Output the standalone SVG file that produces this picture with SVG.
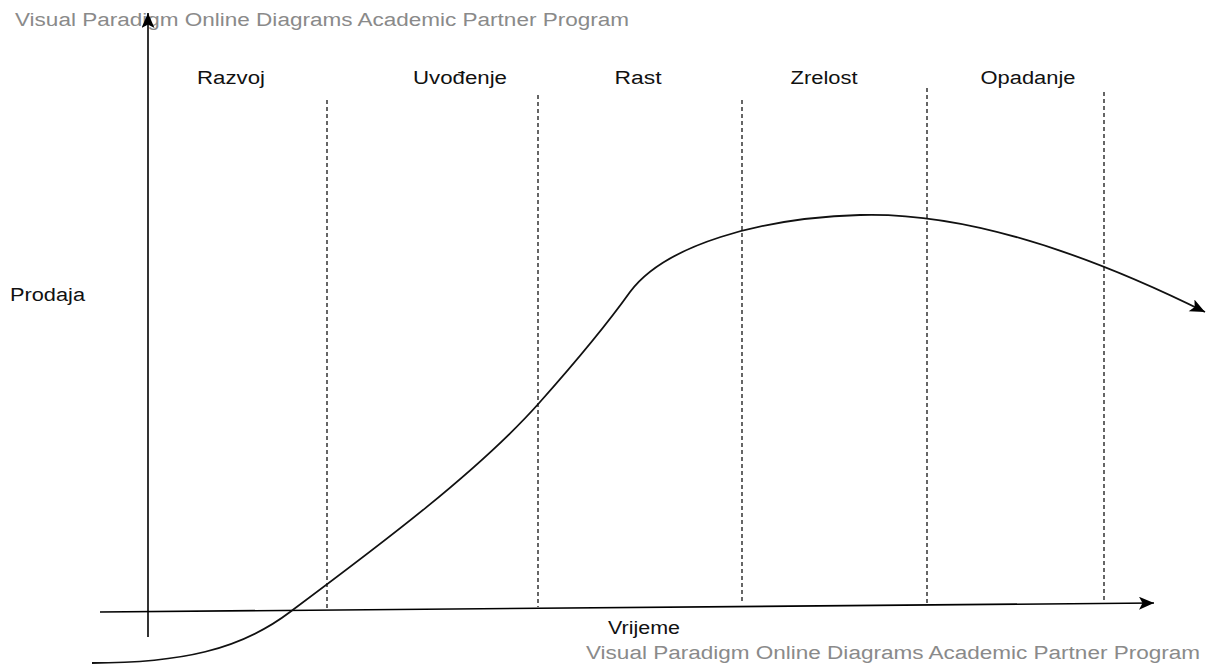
<svg xmlns="http://www.w3.org/2000/svg" width="1207" height="666" viewBox="0 0 1207 666">
  <style>
    .lbl { font-family: "Liberation Sans", Arial, sans-serif; font-size: 18px; fill: #111; }
    .wm { font-family: "Liberation Sans", Arial, sans-serif; font-size: 18px; fill: #8a8a8a; }
    .axis { fill: none; stroke: #000; stroke-width: 1.6; }
    .phase { fill: none; stroke: #000; stroke-width: 1.2; stroke-dasharray: 4 3; }
    .curve { fill: none; stroke: #111; stroke-width: 1.8; }
  </style>
  <defs>
    <marker id="arrow" markerUnits="userSpaceOnUse" markerWidth="16" markerHeight="14" refX="15" refY="6.5" orient="auto">
      <path d="M0,0 L15,6.5 L0,13 L3.5,6.5 Z" fill="#000"/>
    </marker>
  </defs>

  <rect width="1207" height="666" fill="#fff"/>

  <!-- watermark, top -->
  <text class="wm" x="15" y="26" textLength="614" lengthAdjust="spacingAndGlyphs">Visual Paradigm Online Diagrams Academic Partner Program</text>

  <!-- phase boundaries -->
  <g id="phase-lines">
    <line class="phase" x1="327" y1="100" x2="327" y2="608"/>
    <line class="phase" x1="538" y1="95" x2="538" y2="607"/>
    <line class="phase" x1="742" y1="100" x2="742" y2="604"/>
    <line class="phase" x1="927" y1="88" x2="927" y2="603"/>
    <line class="phase" x1="1104" y1="92" x2="1104" y2="601"/>
  </g>

  <!-- phase labels -->
  <g id="label-razvoj"><text class="lbl" x="231" y="84" text-anchor="middle" textLength="68" lengthAdjust="spacingAndGlyphs">Razvoj</text></g>
  <g id="label-uvodenje"><text class="lbl" x="460" y="84" text-anchor="middle" textLength="94" lengthAdjust="spacingAndGlyphs">Uvođenje</text></g>
  <g id="label-rast"><text class="lbl" x="638" y="84" text-anchor="middle" textLength="47" lengthAdjust="spacingAndGlyphs">Rast</text></g>
  <g id="label-zrelost"><text class="lbl" x="824" y="84" text-anchor="middle" textLength="67" lengthAdjust="spacingAndGlyphs">Zrelost</text></g>
  <g id="label-opadanje"><text class="lbl" x="1028" y="84" text-anchor="middle" textLength="95" lengthAdjust="spacingAndGlyphs">Opadanje</text></g>

  <!-- axis titles -->
  <g id="label-prodaja"><text class="lbl" x="10" y="301" textLength="75" lengthAdjust="spacingAndGlyphs">Prodaja</text></g>
  <g id="label-vrijeme"><text class="lbl" x="608" y="634" textLength="72" lengthAdjust="spacingAndGlyphs">Vrijeme</text></g>

  <!-- axes and sales curve -->
  <g id="connectors">
    <line class="axis" x1="148" y1="637" x2="148" y2="13" marker-end="url(#arrow)"/>
    <line class="axis" x1="100" y1="612" x2="1154" y2="603" marker-end="url(#arrow)"/>
    <path class="curve" marker-end="url(#arrow)"
          d="M 92 663 C 180 663 240 650 290 612
             C 380 545 480 470 540 402
             C 580 357 610 320 630 292
             C 665 245 760 218 860 215
             C 960 212 1080 250 1205 312"/>
  </g>

  <!-- watermark, bottom -->
  <text class="wm" x="586" y="659" textLength="614" lengthAdjust="spacingAndGlyphs">Visual Paradigm Online Diagrams Academic Partner Program</text>
</svg>
